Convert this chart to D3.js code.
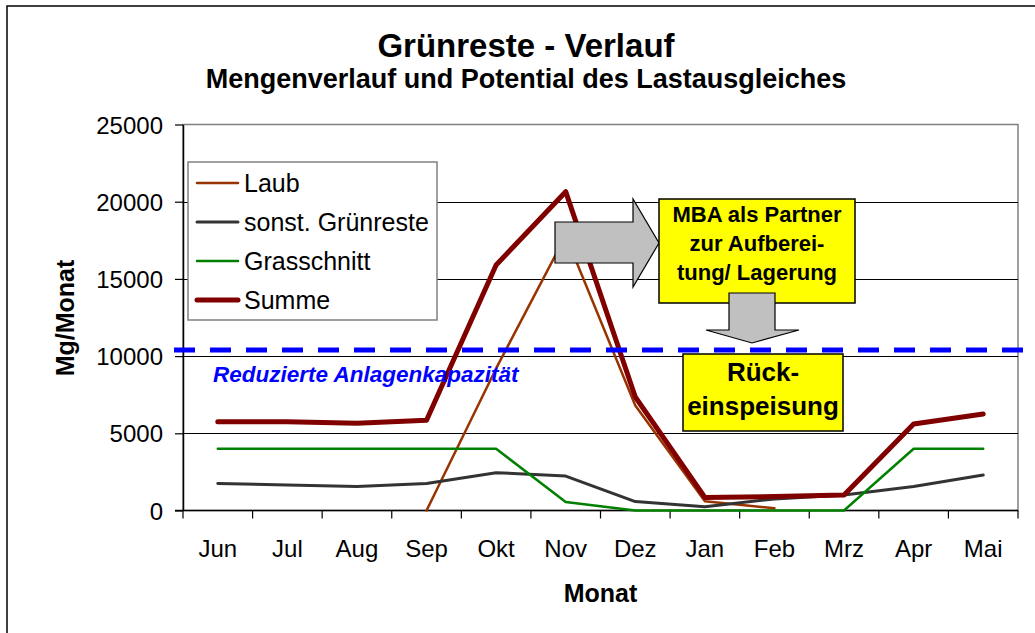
<!DOCTYPE html>
<html>
<head>
<meta charset="utf-8">
<script src="https://cdn.jsdelivr.net/npm/d3@7/dist/d3.min.js"></script>
<style>
  body { margin: 0; background: #fff; }
  svg { display: block; font-family: "Liberation Sans", Arial, sans-serif; }
</style>
</head>
<body>
<div class="canvas"></div>
<script>
// data
const months = ["Jun", "Jul", "Aug", "Sep", "Okt", "Nov", "Dez", "Jan", "Feb", "Mrz", "Apr", "Mai"];
const laub = [null, null, null, 0, 9200, 17800, 6800, 600, 150, null, null, null];
const sonst = [1750, 1650, 1550, 1750, 2450, 2230, 580, 250, 750, 1000, 1550, 2300];
const gras = [4000, 4000, 4000, 4000, 4000, 550, 0, 0, 0, 0, 4000, 4000];
const summe = [5750, 5750, 5650, 5850, 15900, 20650, 7350, 850, 900, 1000, 5600, 6250];
const yTicks = [0, 5000, 10000, 15000, 20000, 25000];
const capacity = 10400;

const series = [
    {name: "Laub", values: laub, color: "#993300", width: 2.5},
    {name: "sonst. Grünreste", values: sonst, color: "#333333", width: 3},
    {name: "Grasschnitt", values: gras, color: "#008000", width: 2.5},
    {name: "Summe", values: summe, color: "#800000", width: 5}
];

const dims = {width: 1035, height: 633};
const plot = {left: 183, right: 1018, top: 124.5, bottom: 510.5};

const svg = d3.select(".canvas").append("svg")
    .attr("width", dims.width)
    .attr("height", dims.height);

// outer frame
svg.append("rect")
    .attr("x", 7).attr("y", 6)
    .attr("width", 1040).attr("height", 640)
    .attr("fill", "none")
    .attr("stroke", "#000")
    .attr("stroke-width", 1.5);

const x = d3.scaleBand()
    .domain(months)
    .range([plot.left, plot.right]);

const y = d3.scaleLinear()
    .domain([0, 25000])
    .range([plot.bottom, plot.top]);

// plot border (top / right grey)
svg.append("rect")
    .attr("x", plot.left).attr("y", plot.top)
    .attr("width", plot.right - plot.left).attr("height", plot.bottom - plot.top)
    .attr("fill", "none")
    .attr("stroke", "#808080")
    .attr("stroke-width", 1.5);

// grid lines
svg.append("g")
    .selectAll("line")
    .data(yTicks.filter(d => d > 0 && d < 25000))
    .enter().append("line")
    .attr("x1", plot.left).attr("x2", plot.right)
    .attr("y1", d => Math.round(y(d)) + 0.5).attr("y2", d => Math.round(y(d)) + 0.5)
    .attr("stroke", "#000")
    .attr("stroke-width", 1);

// y axis
const yAxis = svg.append("g")
    .attr("transform", `translate(${plot.left},0)`)
    .call(d3.axisLeft(y).tickValues(yTicks).tickFormat(d3.format("d"))
        .tickSize(8).tickPadding(12).tickSizeOuter(0));
yAxis.select(".domain").attr("stroke", "#000").attr("stroke-width", 1.5);
yAxis.selectAll(".tick line").attr("stroke", "#000").attr("stroke-width", 1.2);
yAxis.selectAll(".tick text")
    .attr("font-size", 24)
    .attr("font-family", "Liberation Sans, Arial, sans-serif")
    .attr("fill", "#000")
    .attr("dy", "0.36em");

// x axis: ticks at band boundaries
const xAxisG = svg.append("g");
xAxisG.append("line")
    .attr("x1", plot.left - 8).attr("x2", plot.right)
    .attr("y1", plot.bottom).attr("y2", plot.bottom)
    .attr("stroke", "#000").attr("stroke-width", 1.5);
xAxisG.selectAll(".xtick")
    .data(months.concat(["end"]))
    .enter().append("line")
    .attr("class", "xtick")
    .attr("x1", (d, i) => plot.left + i * x.step())
    .attr("x2", (d, i) => plot.left + i * x.step())
    .attr("y1", plot.bottom).attr("y2", plot.bottom + 8)
    .attr("stroke", "#000").attr("stroke-width", 1.2);
xAxisG.selectAll(".xlabel")
    .data(months)
    .enter().append("text")
    .attr("class", "xlabel")
    .attr("x", d => x(d) + x.bandwidth() / 2)
    .attr("y", 557)
    .attr("text-anchor", "middle")
    .attr("font-size", 24)
    .text(d => d);

// axis titles
svg.append("text")
    .attr("x", (plot.left + plot.right) / 2)
    .attr("y", 602)
    .attr("text-anchor", "middle")
    .attr("font-size", 25)
    .attr("font-weight", "bold")
    .text("Monat");

svg.append("text")
    .attr("transform", "translate(74,318) rotate(-90)")
    .attr("text-anchor", "middle")
    .attr("font-size", 25)
    .attr("font-weight", "bold")
    .text("Mg/Monat");

// titles
svg.append("text")
    .attr("x", 526).attr("y", 57)
    .attr("text-anchor", "middle")
    .attr("font-size", 33)
    .attr("font-weight", "bold")
    .text("Grünreste - Verlauf");

svg.append("text")
    .attr("x", 526).attr("y", 88)
    .attr("text-anchor", "middle")
    .attr("font-size", 27)
    .attr("font-weight", "bold")
    .text("Mengenverlauf und Potential des Lastausgleiches");

// lines
const line = d3.line()
    .defined(d => d.v !== null)
    .x(d => x(d.m) + x.bandwidth() / 2)
    .y(d => y(d.v));

svg.append("g")
    .selectAll("path")
    .data(series)
    .enter().append("path")
    .attr("fill", "none")
    .attr("stroke", d => d.color)
    .attr("stroke-width", d => d.width)
    .attr("stroke-linejoin", "round")
    .attr("stroke-linecap", "round")
    .attr("d", d => line(d.values.map((v, i) => ({m: months[i], v: v}))));

// legend
const legend = svg.append("g");
legend.append("rect")
    .attr("x", 188).attr("y", 162)
    .attr("width", 249).attr("height", 158)
    .attr("fill", "#fff")
    .attr("stroke", "#808080")
    .attr("stroke-width", 1.5);
const items = legend.selectAll(".item")
    .data(series)
    .enter().append("g")
    .attr("class", "item")
    .attr("transform", (d, i) => `translate(0,${183 + i * 39})`);
items.append("line")
    .attr("x1", 197).attr("x2", 238)
    .attr("stroke", d => d.color)
    .attr("stroke-width", d => d.width)
    .attr("stroke-linecap", "round");
items.append("text")
    .attr("x", 244).attr("y", 0)
    .attr("dy", "0.36em")
    .attr("font-size", 25)
    .text(d => d.name);

// capacity line
svg.append("line")
    .attr("x1", 174).attr("x2", 1040)
    .attr("y1", y(capacity)).attr("y2", y(capacity))
    .attr("stroke", "#0000ff")
    .attr("stroke-width", 5)
    .attr("stroke-dasharray", "21,15");

svg.append("text")
    .attr("x", 213).attr("y", 382)
    .attr("font-size", 22.5)
    .attr("font-weight", "bold")
    .attr("font-style", "italic")
    .attr("fill", "#0000ff")
    .text("Reduzierte Anlagenkapazität");

// right arrow
svg.append("path")
    .attr("d", "M555,222 L633,222 L633,199 L659,243 L633,287 L633,263 L555,263 Z")
    .attr("fill", "#c0c0c0")
    .attr("stroke", "#000")
    .attr("stroke-width", 1.2);

// box 1
svg.append("rect")
    .attr("x", 659).attr("y", 199)
    .attr("width", 196).attr("height", 104)
    .attr("fill", "#ffff00")
    .attr("stroke", "#000")
    .attr("stroke-width", 1.5);
svg.append("text")
    .attr("text-anchor", "middle")
    .attr("font-size", 22)
    .attr("font-weight", "bold")
    .selectAll("tspan")
    .data(["MBA als Partner", "zur Aufberei-", "tung/ Lagerung"])
    .enter().append("tspan")
    .attr("x", 757)
    .attr("y", (d, i) => 222 + i * 29)
    .text(d => d);

// down arrow
svg.append("path")
    .attr("d", "M729,293 L775,293 L775,330 L799,330 L752,343 L706,330 L729,330 Z")
    .attr("fill", "#c0c0c0")
    .attr("stroke", "#000")
    .attr("stroke-width", 1.2);

// box 2
svg.append("rect")
    .attr("x", 683).attr("y", 354)
    .attr("width", 160).attr("height", 77)
    .attr("fill", "#ffff00")
    .attr("stroke", "#000")
    .attr("stroke-width", 1.5);
svg.append("text")
    .attr("text-anchor", "middle")
    .attr("font-size", 26)
    .attr("font-weight", "bold")
    .selectAll("tspan")
    .data(["Rück-", "einspeisung"])
    .enter().append("tspan")
    .attr("x", 763)
    .attr("y", (d, i) => 381 + i * 34)
    .text(d => d);
</script>
</body>
</html>
